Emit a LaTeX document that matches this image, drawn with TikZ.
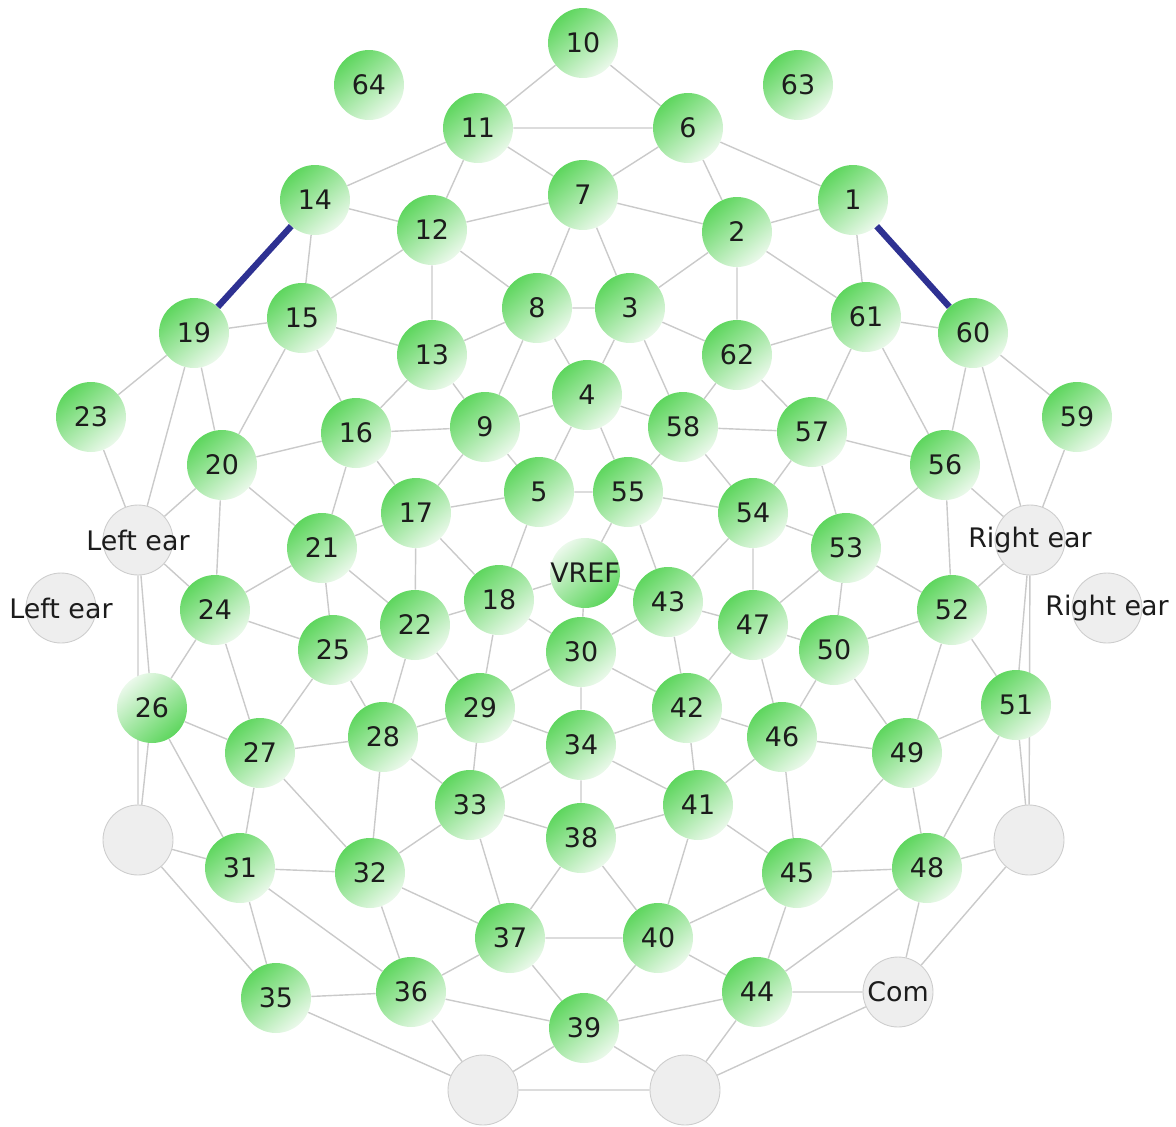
\documentclass[tikz,border=0pt]{standalone}
\usepackage{fontspec}
\setmainfont{DejaVu Sans}
\usetikzlibrary{backgrounds}
\definecolor{egreen}{HTML}{5ED65E}
\definecolor{epale}{HTML}{EBF9EB}
\definecolor{egray}{HTML}{EEEEEE}
\definecolor{eedge}{HTML}{CDCDCD}
\definecolor{eline}{HTML}{CACACA}
\definecolor{eblue}{HTML}{2E3192}
\definecolor{etext}{HTML}{1C1C1C}
\tikzset{
  elec/.style={circle, inner sep=0pt, minimum size=1.4cm, top color=egreen,
               bottom color=epale, shading angle=40, text=etext,
               font=\fontsize{15.3}{18}\selectfont},
  elecrev/.style={circle, inner sep=0pt, minimum size=1.4cm, top color=epale,
                  bottom color=egreen, shading angle=40, text=etext,
                  font=\fontsize{15.3}{18}\selectfont},
  blank/.style={circle, inner sep=0pt, minimum size=1.4cm, fill=egray,
                draw=eedge, line width=0.5pt},
  tag/.style={text=etext, font=\fontsize{15.3}{18}\selectfont},
  wire/.style={eline, line width=0.8pt},
  bridge/.style={eblue, line width=3.6pt},
}

\begin{document}
\begin{tikzpicture}[x=0.02cm, y=-0.02cm]
  \useasboundingbox (0,0) rectangle (1176,1126);

  % electrodes, top to bottom
  \node[elec] (e10) at (583,43) {10};
  \node[elec] (e64) at (369,85) {64};
  \node[elec] (e63) at (798,85) {63};
  \node[elec] (e11) at (478,128) {11};
  \node[elec] (e6) at (688,128) {6};
  \node[elec] (e7) at (583,195) {7};
  \node[elec] (e14) at (315,200) {14};
  \node[elec] (e1) at (853,200) {1};
  \node[elec] (e12) at (432,230) {12};
  \node[elec] (e2) at (737,232) {2};
  \node[elec] (e8) at (537,308) {8};
  \node[elec] (e3) at (630,308) {3};
  \node[elec] (e15) at (302,318) {15};
  \node[elec] (e61) at (866,317) {61};
  \node[elec] (e19) at (194,333) {19};
  \node[elec] (e60) at (973,333) {60};
  \node[elec] (e13) at (432,355) {13};
  \node[elec] (e62) at (737,355) {62};
  \node[elec] (e4) at (587,395) {4};
  \node[elec] (e23) at (91,417) {23};
  \node[elec] (e59) at (1077,417) {59};
  \node[elec] (e9) at (485,427) {9};
  \node[elec] (e58) at (683,427) {58};
  \node[elec] (e16) at (356,433) {16};
  \node[elec] (e57) at (812,432) {57};
  \node[elec] (e20) at (222,465) {20};
  \node[elec] (e56) at (945,465) {56};
  \node[elec] (e5) at (539,492) {5};
  \node[elec] (e55) at (628,492) {55};
  \node[elec] (e17) at (416,513) {17};
  \node[elec] (e54) at (753,513) {54};
  \node[elec] (e21) at (322,548) {21};
  \node[elec] (e53) at (846,548) {53};
  \node[elecrev, label={[tag]center:VREF}] (vref) at (585,573) {};
  \node[elec] (e18) at (499,600) {18};
  \node[elec] (e43) at (668,602) {43};
  \node[elec] (e24) at (215,610) {24};
  \node[elec] (e52) at (952,610) {52};
  \node[elec] (e22) at (415,625) {22};
  \node[elec] (e47) at (753,625) {47};
  \node[elec] (e25) at (333,650) {25};
  \node[elec] (e50) at (834,650) {50};
  \node[elec] (e30) at (581,652) {30};
  \node[elecrev] (e26) at (152,708) {26};
  \node[elec] (e51) at (1016,705) {51};
  \node[elec] (e29) at (480,708) {29};
  \node[elec] (e42) at (687,708) {42};
  \node[elec] (e28) at (383,737) {28};
  \node[elec] (e46) at (782,737) {46};
  \node[elec] (e34) at (581,745) {34};
  \node[elec] (e27) at (260,753) {27};
  \node[elec] (e49) at (907,753) {49};
  \node[elec] (e33) at (470,805) {33};
  \node[elec] (e41) at (698,805) {41};
  \node[elec] (e38) at (581,838) {38};
  \node[elec] (e31) at (240,868) {31};
  \node[elec] (e48) at (927,868) {48};
  \node[elec] (e32) at (370,873) {32};
  \node[elec] (e45) at (797,873) {45};
  \node[elec] (e37) at (510,938) {37};
  \node[elec] (e40) at (658,938) {40};
  \node[elec] (e36) at (411,992) {36};
  \node[elec] (e44) at (757,992) {44};
  \node[elec] (e35) at (276,998) {35};
  \node[elec] (e39) at (584,1028) {39};

  % grey pads
  \node[blank, label={[tag]center:Left ear}] (earl) at (138,540) {};
  \node[blank, label={[tag]center:Left ear}] (earlx) at (61,608) {};
  \node[blank, label={[tag]center:Right ear}] (earr) at (1030,540) {};
  \node[blank, label={[tag]center:Right ear}] (earrx) at (1107,608) {};
  \node[blank] (padl) at (138,840) {};
  \node[blank] (padr) at (1029,840) {};
  \node[blank, label={[tag]center:Com}] (com) at (898,992) {};
  \node[blank] (padbl) at (483,1090) {};
  \node[blank] (padbr) at (685,1090) {};

  \begin{scope}[on background layer]
    \draw[wire] (e10) -- (e11) (e10) -- (e6) (e11) -- (e6)
      (e11) -- (e14) (e11) -- (e12) (e11) -- (e7)
      (e6) -- (e7) (e6) -- (e2) (e6) -- (e1)
      (e14) -- (e12) (e14) -- (e15) (e1) -- (e2) (e1) -- (e61)
      (e7) -- (e12) (e7) -- (e2) (e7) -- (e8) (e7) -- (e3);
    \draw[wire] (e12) -- (e15) (e12) -- (e13) (e12) -- (e8)
      (e2) -- (e3) (e2) -- (e62) (e2) -- (e61)
      (e8) -- (e3) (e8) -- (e13) (e8) -- (e4) (e8) -- (e9)
      (e3) -- (e4) (e3) -- (e62) (e3) -- (e58)
      (e15) -- (e19) (e15) -- (e13) (e15) -- (e16) (e15) -- (e20)
      (e61) -- (e60) (e61) -- (e62) (e61) -- (e57) (e61) -- (e56)
      (e13) -- (e9) (e13) -- (e16) (e62) -- (e58) (e62) -- (e57);
    \draw[wire] (e19) -- (e23) (e19) -- (e20) (e19) -- (earl)
      (e60) -- (e59) (e60) -- (e56) (e60) -- (earr)
      (e23) -- (earl) (e59) -- (earr)
      (e9) -- (e4) (e9) -- (e5) (e9) -- (e16) (e9) -- (e17)
      (e58) -- (e4) (e58) -- (e55) (e58) -- (e57) (e58) -- (e54)
      (e4) -- (e5) (e4) -- (e55)
      (e16) -- (e20) (e16) -- (e21) (e16) -- (e17)
      (e57) -- (e56) (e57) -- (e53) (e57) -- (e54)
      (e20) -- (earl) (e20) -- (e21) (e20) -- (e24)
      (e56) -- (earr) (e56) -- (e53) (e56) -- (e52);
    \draw[wire] (e5) -- (e55) (e5) -- (e17) (e5) -- (e18)
      (e55) -- (vref) (e55) -- (e43) (e55) -- (e54)
      (e17) -- (e21) (e17) -- (e22) (e17) -- (e18)
      (e54) -- (e53) (e54) -- (e47) (e54) -- (e43)
      (e21) -- (e24) (e21) -- (e25) (e21) -- (e22)
      (e53) -- (e52) (e53) -- (e50) (e53) -- (e47)
      (earl) -- (e24) (earl) -- (e26) (earl) -- (padl)
      (earr) -- (e52) (earr) -- (e51) (earr) -- (padr)
      (vref) -- (e18) (vref) -- (e43) (vref) -- (e30)
      (e18) -- (e22) (e18) -- (e29) (e18) -- (e30)
      (e43) -- (e47) (e43) -- (e42) (e43) -- (e30);
    \draw[wire] (e24) -- (e25) (e24) -- (e26) (e24) -- (e27)
      (e52) -- (e50) (e52) -- (e51) (e52) -- (e49)
      (e22) -- (e25) (e22) -- (e28) (e22) -- (e29)
      (e47) -- (e50) (e47) -- (e46) (e47) -- (e42)
      (e25) -- (e27) (e25) -- (e28) (e50) -- (e49) (e50) -- (e46)
      (e30) -- (e29) (e30) -- (e42) (e30) -- (e34)
      (e26) -- (e27) (e26) -- (e31) (e26) -- (padl)
      (e51) -- (e49) (e51) -- (e48) (e51) -- (padr)
      (e29) -- (e28) (e29) -- (e34) (e29) -- (e33)
      (e42) -- (e46) (e42) -- (e34) (e42) -- (e41);
    \draw[wire] (e27) -- (e28) (e27) -- (e31) (e27) -- (e32)
      (e49) -- (e46) (e49) -- (e48) (e49) -- (e45)
      (e28) -- (e32) (e28) -- (e33) (e46) -- (e45) (e46) -- (e41)
      (e34) -- (e33) (e34) -- (e41) (e34) -- (e38)
      (e33) -- (e32) (e33) -- (e38) (e33) -- (e37)
      (e41) -- (e45) (e41) -- (e38) (e41) -- (e40)
      (padl) -- (e31) (padl) -- (e35) (padr) -- (e48) (padr) -- (com)
      (e31) -- (e32) (e31) -- (e35) (e31) -- (e36)
      (e48) -- (e45) (e48) -- (com) (e48) -- (e44);
    \draw[wire] (e32) -- (e37) (e32) -- (e36) (e45) -- (e40) (e45) -- (e44)
      (e38) -- (e37) (e38) -- (e40)
      (e37) -- (e40) (e37) -- (e36) (e37) -- (e39)
      (e40) -- (e44) (e40) -- (e39)
      (e35) -- (e36) (e35) -- (padbl) (com) -- (e44) (com) -- (padbr)
      (e36) -- (e39) (e36) -- (padbl) (e44) -- (e39) (e44) -- (padbr)
      (e39) -- (padbl) (e39) -- (padbr) (padbl) -- (padbr);
  \end{scope}

  \draw[bridge] (e14) -- (e19);
  \draw[bridge] (e1) -- (e60);
\end{tikzpicture}
\end{document}
